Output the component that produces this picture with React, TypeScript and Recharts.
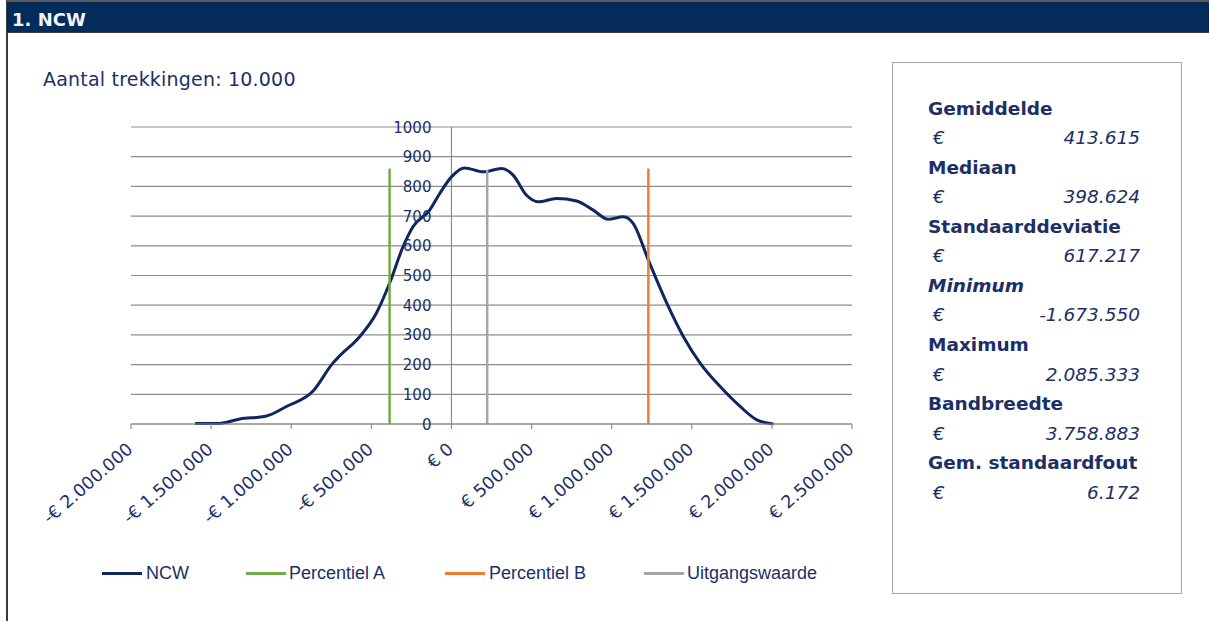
import React from 'react';
import { LineChart, Line, XAxis, YAxis, CartesianGrid, ReferenceLine, ReferenceDot } from 'recharts';

// NCW distribution (bedrag in €, aantal trekkingen)
const ncwX = [
  -1600000, -1450000, -1320000, -1160000, -1030000, -865000, -740000, -700000, -573000, -469000,
  -386000, -302000, -240000, -136000, -73000, 0, 83000, 198000, 312000, 385000, 469000, 541000,
  656000, 781000, 885000, 979000, 1073000, 1135000, 1229000, 1344000, 1448000, 1552000, 1677000,
  1802000, 1906000, 2010000,
];
const ncwY = [
  2, 2, 17, 26, 59, 110, 205, 228, 294, 373, 474, 597, 664, 720, 776, 832, 862, 849, 860, 838, 770,
  748, 759, 751, 720, 689, 698, 675, 552, 407, 294, 205, 126, 59, 14, 0,
];

const percentielA = -386000;
const percentielB = 1229000;
const uitgangswaarde = 223000;
const markerTop = [860, 860, 855];

const xTicks = [-2000000, -1500000, -1000000, -500000, 0, 500000, 1000000, 1500000, 2000000, 2500000];
const yTicks = [0, 100, 200, 300, 400, 500, 600, 700, 800, 900, 1000];

const statLabels = ['Gemiddelde', 'Mediaan', 'Standaarddeviatie', 'Minimum', 'Maximum', 'Bandbreedte', 'Gem. standaardfout'];
const statValues = ['413.615', '398.624', '617.217', '-1.673.550', '2.085.333', '3.758.883', '6.172'];

const legendItems = [
  { name: 'NCW', color: '#10265e', line: 102, text: 146 },
  { name: 'Percentiel A', color: '#70ad47', line: 246, text: 289 },
  { name: 'Percentiel B', color: '#ed7d31', line: 445, text: 489 },
  { name: 'Uitgangswaarde', color: '#a5a5a5', line: 644, text: 687 },
];

const ncwData = ncwX.map((x, i) => ({ x, y: ncwY[i] }));
const vline = (x: number, top: number) => [{ x, y: 0 }, { x, y: top }];

const NAVY = '#1c2f66';
const FONT = '"DejaVu Sans", Verdana, sans-serif';

const euro = (v: number) => {
  const s = String(Math.abs(v)).replace(/\B(?=(\d{3})+(?!\d))/g, '.');
  return (v < 0 ? '-' : '') + '€ ' + s;
};

const XTick = ({ x, y, payload }: any) => (
  <g transform={`translate(${x + 3},${y + 22})`}>
    <text textAnchor="end" transform="rotate(-41)" fill={NAVY} fontSize={17.5} fontFamily={FONT}>
      {euro(payload.value)}
    </text>
  </g>
);

const YLabel = ({ cx, cy, value }: any) => (
  <text x={cx - 20} y={cy + 5.5} textAnchor="end" fill={NAVY} fontSize={15} fontFamily={FONT}>
    {value}
  </text>
);

export default function App() {
  return (
    <div style={{ position: 'absolute', left: 0, top: 0, width: 1209, height: 621, background: '#fff', overflow: 'hidden', fontFamily: FONT }}>
      <div style={{ position: 'absolute', left: 6, top: 0, width: 2, height: 621, background: '#3a3a3a' }} />
      <div style={{ position: 'absolute', left: 7, top: 0, width: 1202, height: 30, background: '#032b5c', borderTop: '2px solid #5a5a5a', borderBottom: '1px solid #3a3a3a' }} />
      <div style={{ position: 'absolute', left: 12, top: 9.5, lineHeight: '20px', fontSize: 18, fontWeight: 'bold', color: '#f4f4f4' }}>1. NCW</div>
      <div style={{ position: 'absolute', left: 43, top: 68.2, lineHeight: '22px', fontSize: 19, letterSpacing: 0.2, color: NAVY }}>Aantal trekkingen: 10.000</div>

      <div style={{ position: 'absolute', left: 0, top: 0 }}>
        <LineChart width={900} height={621} margin={{ top: 127, right: 48, bottom: 137, left: 131 }}>
          <CartesianGrid vertical={false} stroke="#8c8c8c" strokeWidth={1.2} />
          <XAxis
            dataKey="x"
            type="number"
            domain={[-2000000, 2500000]}
            ticks={xTicks}
            interval={0}
            allowDataOverflow
            height={60}
            axisLine={{ stroke: '#8c8c8c', strokeWidth: 1.2 }}
            tickLine={{ stroke: '#8c8c8c', strokeWidth: 1.2 }}
            tickSize={5}
            tickMargin={0}
            tick={<XTick />}
          />
          <YAxis type="number" domain={[0, 1000]} ticks={yTicks} hide />
          <ReferenceLine x={0} stroke="#8c8c8c" strokeWidth={1.2} />
          {yTicks.map((v) => (
            <ReferenceDot key={v} x={0} y={v} r={0} shape={(p: any) => <YLabel {...p} value={v} />} />
          ))}
          <Line data={ncwData} dataKey="y" type="monotone" stroke="#10265e" strokeWidth={3} dot={false} isAnimationActive={false} />
          <Line data={vline(percentielA, markerTop[0])} dataKey="y" type="linear" stroke="#70ad47" strokeWidth={2.5} dot={false} isAnimationActive={false} />
          <Line data={vline(percentielB, markerTop[1])} dataKey="y" type="linear" stroke="#ed7d31" strokeWidth={2.5} dot={false} isAnimationActive={false} />
          <Line data={vline(uitgangswaarde, markerTop[2])} dataKey="y" type="linear" stroke="#a5a5a5" strokeWidth={2.5} dot={false} isAnimationActive={false} />
        </LineChart>
      </div>

      {legendItems.map((l) => (
        <React.Fragment key={l.name}>
          <div style={{ position: 'absolute', left: l.line, top: 572, width: 40, height: 3, background: l.color }} />
          <div style={{ position: 'absolute', left: l.text, top: 562, lineHeight: '22px', fontSize: 18, color: NAVY, fontFamily: '"Liberation Sans", Arial, sans-serif' }}>{l.name}</div>
        </React.Fragment>
      ))}

      <div style={{ position: 'absolute', left: 892, top: 62, width: 288, height: 530, border: '1px solid #a6a6a6' }} />
      <div style={{ position: 'absolute', left: 928, top: 93.6, width: 212, fontSize: 18.5, lineHeight: '29.55px', color: NAVY }}>
        {statLabels.map((lab, i) => (
          <React.Fragment key={lab}>
            <div style={{ fontWeight: 'bold', fontStyle: lab === 'Minimum' ? 'italic' : 'normal', whiteSpace: 'nowrap' }}>{lab}</div>
            <div style={{ display: 'flex', justifyContent: 'space-between', fontStyle: 'italic' }}>
              <span style={{ paddingLeft: 5 }}>€</span>
              <span>{statValues[i]}</span>
            </div>
          </React.Fragment>
        ))}
      </div>
    </div>
  );
}
